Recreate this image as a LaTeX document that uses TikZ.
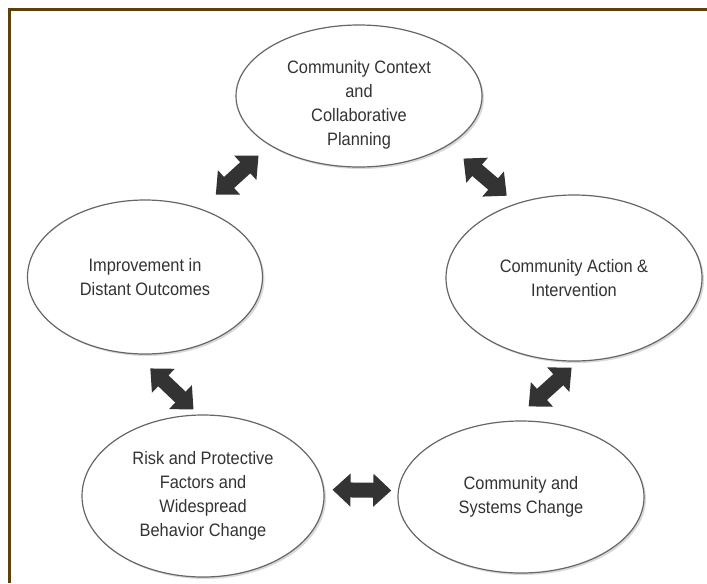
\documentclass[tikz,border=0pt]{standalone}
\usepackage{fontspec}
\setmainfont[FakeStretch=0.91]{Liberation Sans}
\usepackage{tikz}
\usetikzlibrary{shapes.geometric,arrows.meta,shadows}
\definecolor{framebrown}{RGB}{92,66,8}
\definecolor{inkgray}{RGB}{51,51,51}
\tikzset{
  stage/.style={draw=gray!80!black, line width=0.9pt, ellipse, fill=white,
    inner sep=0pt, align=center, text=inkgray,
    font=\fontsize{13.5}{18}\selectfont,
    drop shadow={shadow xshift=1.5pt, shadow yshift=-1.5pt, opacity=0.3}},
  link/.style={draw=inkgray, line width=11.25pt,
    {Triangle[width=24pt, length=13.5pt]}-{Triangle[width=24pt, length=13.5pt]}},
}

\begin{document}
\begin{tikzpicture}[x=0.75pt, y=-0.75pt]
    \useasboundingbox (0,0) rectangle (707,583);
    % outer frame, cut off at the right and bottom
    \draw[framebrown, line width=2.25pt] (9.5,583) -- (9.5,9.5) -- (707,9.5);

    \node[stage, inner ysep=-7pt, minimum width=184.5pt, minimum height=106.5pt] (CC) at (359,96)
      {\rule{0pt}{23pt}Community Context\\and\\Collaborative\\Planning};
    \node[stage, minimum width=192pt, minimum height=124.5pt] (CA) at (574,278)
      {Community Action \&\\Intervention};
    \node[stage, minimum width=184.5pt, minimum height=114pt] (SC) at (521,497)
      {Community and\\Systems Change};
    \node[stage, minimum width=181.5pt, minimum height=121.5pt] (RP) at (203,496)
      {Risk and Protective\\Factors and\\Widespread\\Behavior Change};
    \node[stage, minimum width=176.25pt, minimum height=115.5pt] (DO) at (145,277)
      {Improvement in\\Distant Outcomes};

    \draw[link, shorten <=11.3pt, shorten >=15.5pt] (CC.209) -- (DO.51);
    \draw[link, shorten <=15pt, shorten >=8.9pt] (CC.331) -- (CA.128.5);
    \draw[link, shorten <=6.8pt, shorten >=15.8pt] (CA.273) -- (SC.96.5);
    \draw[link, shorten <=6.2pt, shorten >=4.9pt] (RP.3) -- (SC.177);
    \draw[link, shorten <=15.3pt, shorten >=5.4pt] (DO.263) -- (RP.93.4);
\end{tikzpicture}
\end{document}
